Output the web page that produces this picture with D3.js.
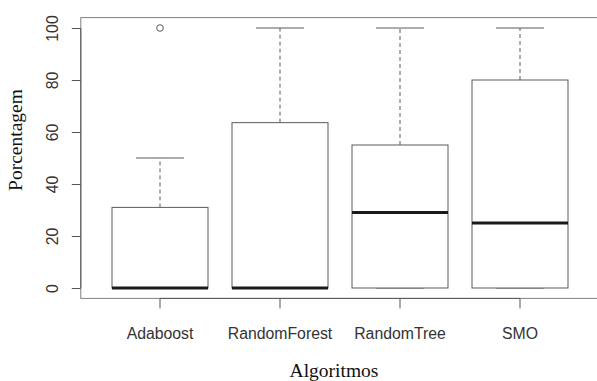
<!DOCTYPE html>
<html>
<head>
<meta charset="utf-8">
<script src="https://cdn.jsdelivr.net/npm/d3@7/dist/d3.min.js"></script>
<style>
  html, body { margin: 0; padding: 0; background: #fff; }
  svg { display: block; }
</style>
</head>
<body>
<div id="chart"></div>
<script>
// data
const categories = ['Adaboost', 'RandomForest', 'RandomTree', 'SMO'];
const whiskerLow = [0, 0, 0, 0];
const q1 = [0, 0, 0, 0];
const median = [0, 0, 29, 25];
const q3 = [31, 63.6, 55, 80];
const whiskerHigh = [50, 100, 100, 100];
const outliers = [[100], [], [], []];
const yTicks = [0, 20, 40, 60, 80, 100];

const width = 597, height = 381;
const frame = { left: 80.8, right: 599.2 };

const svg = d3.select('#chart')
  .append('svg')
  .attr('width', width)
  .attr('height', height);

const x = d3.scaleBand()
  .domain(categories)
  .range([100, 580])
  .padding(0);

const y = d3.scaleLinear()
  .domain([-4, 104])
  .range([298.4, 17.6]);

const boxW = x.bandwidth() * 0.8;
const capW = boxW / 2;
const cx = c => x(c) + x.bandwidth() / 2;

const rows = categories.map((c, i) => ({
  c, lo: whiskerLow[i], q1: q1[i], med: median[i], q3: q3[i], hi: whiskerHigh[i], out: outliers[i]
}));

// plot frame
svg.append('rect')
  .attr('x', frame.left)
  .attr('y', y(104))
  .attr('width', frame.right - frame.left)
  .attr('height', y(-4) - y(104))
  .attr('fill', 'none')
  .attr('stroke', '#808080')
  .attr('stroke-width', 1);

const g = svg.append('g').selectAll('g.box')
  .data(rows)
  .enter()
  .append('g')
  .attr('class', 'box');

const lineCol = '#5a5a5a';

// whiskers (dashed)
g.append('line')
  .attr('x1', d => cx(d.c)).attr('x2', d => cx(d.c))
  .attr('y1', d => y(d.q3)).attr('y2', d => y(d.hi))
  .attr('stroke', lineCol)
  .attr('stroke-dasharray', '4,3');
g.append('line')
  .attr('x1', d => cx(d.c)).attr('x2', d => cx(d.c))
  .attr('y1', d => y(d.q1)).attr('y2', d => y(d.lo))
  .attr('stroke', lineCol)
  .attr('stroke-dasharray', '4,3');

// staples
g.append('line')
  .attr('x1', d => cx(d.c) - capW / 2).attr('x2', d => cx(d.c) + capW / 2)
  .attr('y1', d => y(d.hi)).attr('y2', d => y(d.hi))
  .attr('stroke', lineCol);
g.append('line')
  .attr('x1', d => cx(d.c) - capW / 2).attr('x2', d => cx(d.c) + capW / 2)
  .attr('y1', d => y(d.lo)).attr('y2', d => y(d.lo))
  .attr('stroke', lineCol);

// boxes
g.append('rect')
  .attr('x', d => cx(d.c) - boxW / 2)
  .attr('y', d => y(d.q3))
  .attr('width', boxW)
  .attr('height', d => y(d.q1) - y(d.q3))
  .attr('fill', '#fff')
  .attr('stroke', lineCol);

// medians
g.append('line')
  .attr('x1', d => cx(d.c) - boxW / 2).attr('x2', d => cx(d.c) + boxW / 2)
  .attr('y1', d => y(d.med)).attr('y2', d => y(d.med))
  .attr('stroke', '#1a1a1a')
  .attr('stroke-width', 3);

// outliers
g.selectAll('circle')
  .data(d => d.out.map(v => ({ c: d.c, v })))
  .enter()
  .append('circle')
  .attr('cx', d => cx(d.c))
  .attr('cy', d => y(d.v))
  .attr('r', 3.3)
  .attr('fill', 'none')
  .attr('stroke', lineCol);

// y axis
const yAxis = svg.append('g')
  .attr('transform', `translate(${frame.left},0)`)
  .call(d3.axisLeft(y).tickValues(yTicks).tickSize(9).tickSizeOuter(0).tickFormat(d3.format('d')));
yAxis.select('.domain').remove();
yAxis.append('line')
  .attr('y1', y(0)).attr('y2', y(100))
  .attr('stroke', '#555');
yAxis.selectAll('.tick line').attr('stroke', '#555');
yAxis.selectAll('.tick text')
  .attr('transform', 'rotate(-90)')
  .attr('x', 0)
  .attr('y', -22.5)
  .attr('dy', 0)
  .attr('text-anchor', 'middle')
  .style('font-family', '"Liberation Sans", Arial, sans-serif')
  .style('font-size', '15.8px')
  .style('fill', '#333');

// x axis
const xAxis = svg.append('g')
  .attr('transform', `translate(0,${y(-4)})`)
  .call(d3.axisBottom(x).tickSize(10).tickSizeOuter(0));
xAxis.select('.domain').remove();
xAxis.append('line')
  .attr('x1', cx(categories[0])).attr('x2', cx(categories[categories.length - 1]))
  .attr('stroke', '#555');
xAxis.selectAll('.tick line').attr('stroke', '#555');
xAxis.selectAll('.tick text')
  .attr('y', 40.6)
  .attr('dy', 0)
  .style('font-family', '"Liberation Sans", Arial, sans-serif')
  .style('font-size', '15.8px')
  .style('fill', '#333');

// axis titles
svg.append('text')
  .attr('transform', 'translate(22,140) rotate(-90)')
  .attr('text-anchor', 'middle')
  .style('font-family', '"Liberation Serif", "Times New Roman", serif')
  .style('font-size', '19.5px')
  .style('fill', '#111')
  .text('Porcentagem');

svg.append('text')
  .attr('x', 334)
  .attr('y', 377)
  .attr('text-anchor', 'middle')
  .style('font-family', '"Liberation Serif", "Times New Roman", serif')
  .style('font-size', '19.5px')
  .style('fill', '#111')
  .text('Algoritmos');
</script>
</body>
</html>
